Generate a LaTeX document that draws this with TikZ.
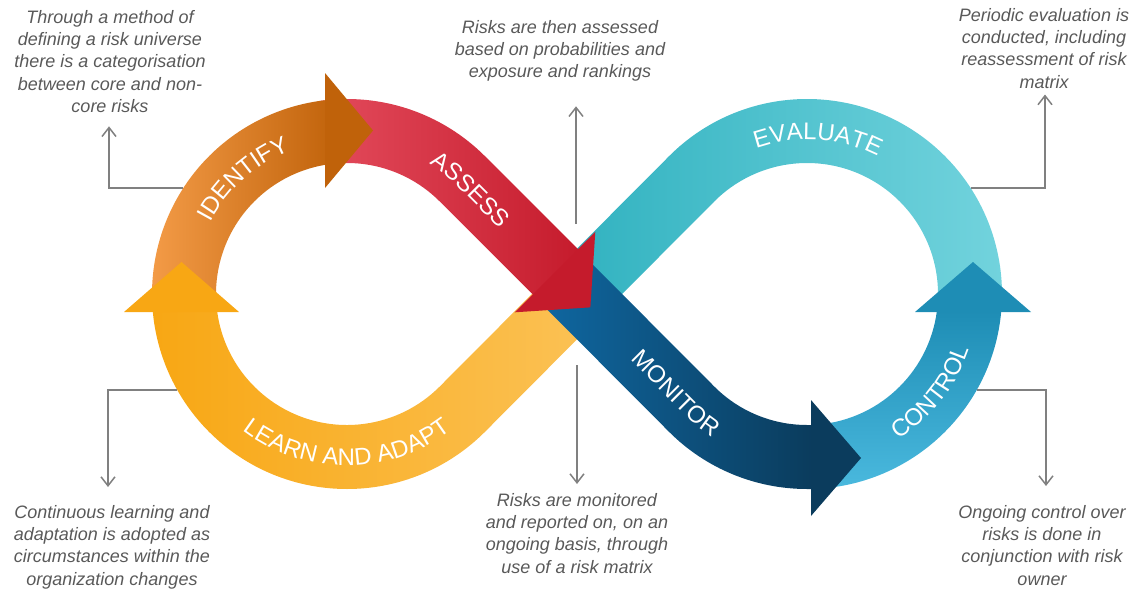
\documentclass[tikz,border=0pt]{standalone}
\usepackage{fontspec}
\setmainfont{Liberation Sans}
\usetikzlibrary{calc,decorations.text,arrows.meta}

\definecolor{orL}{HTML}{F49C48}
\definecolor{orR}{HTML}{C0620A}
\definecolor{redL}{HTML}{E34B5C}
\definecolor{redR}{HTML}{C51B2C}
\definecolor{cyL}{HTML}{2FB1BF}
\definecolor{cyR}{HTML}{72D3DD}
\definecolor{ctT}{HTML}{1E8DB5}
\definecolor{ctB}{HTML}{4AB9DE}
\definecolor{moL}{HTML}{0F68A2}
\definecolor{moR}{HTML}{0B3C5D}
\definecolor{yeL}{HTML}{F8A714}
\definecolor{yeR}{HTML}{FBC256}
\definecolor{descgray}{HTML}{595959}
\definecolor{conngray}{HTML}{808080}

\newcommand\bandfont{\fontsize{24}{24}\selectfont\color{white}}

\tikzset{
  desc/.style={align=center, font=\fontsize{18}{22.3}\selectfont\itshape, text=descgray, inner sep=0pt},
  conn/.style={draw=conngray, line width=1.5pt, -{Straight Barb[length=9pt,width=14pt]}},
  bandlabel/.style={decorate, decoration={text along path, text align=center, text={|\bandfont|#1}}}
}

\begin{document}
\begin{tikzpicture}[x=1pt,y=-1pt]
\useasboundingbox (0,0) rectangle (1138,589);
\coordinate (CL) at (347,294);
\coordinate (CR) at (807,294);
\coordinate (X) at (577,294);
\coordinate (H) at (555,272);

% ---------- band bodies ----------
% evaluate (cyan)
\shade[left color=cyL, right color=cyR]
  ($(X)+(-22.63,-22.63)$) -- ($(CR)+(225:195)$) arc[start angle=225, end angle=361.18, radius=195]
  -- ($(CR)+(361.75:131)$) arc[start angle=361.75, end angle=225, radius=131]
  -- ($(X)+(22.63,22.63)$) -- cycle;
% learn and adapt (yellow)
\shade[left color=yeL, right color=yeR]
  ($(X)+(22.63,22.63)$) -- ($(CL)+(45:195)$) arc[start angle=45, end angle=175.0, radius=195]
  -- ($(CL)+(172.54:131)$) arc[start angle=172.54, end angle=45, radius=131]
  -- ($(X)+(-22.63,-22.63)$) -- cycle;
% monitor (dark blue)
\shade[left color=moL, right color=moR]
  (534.37,296.63) -- ($(CR)+(135:195)$) arc[start angle=135, end angle=90, radius=195]
  -- (812,489) -- (812,425) -- ($(CR)+(90:131)$) arc[start angle=90, end angle=135, radius=131]
  -- (579.63,251.37) -- cycle;
% assess (red)
\shade[left color=redL, right color=redR]
  ($(CL)+(262:195)$) arc[start angle=262, end angle=315, radius=195]
  -- ++(96.55,96.55) -- ($(CL)+(315:131)+(96.55,96.55)$)
  -- ($(CL)+(315:131)$) arc[start angle=315, end angle=262, radius=131] -- cycle;
% identify (orange)
\shade[left color=orL, right color=orR]
  ($(CL)+(175.59:195)$) arc[start angle=175.59, end angle=266, radius=195]
  -- ($(CL)+(266:131)$) arc[start angle=266, end angle=173.43, radius=131] -- cycle;
% control (blue)
\shade[top color=ctT, bottom color=ctB]
  ($(CR)+(88.24:195)$) arc[start angle=88.24, end angle=5.0, radius=195]
  -- ($(CR)+(7.46:131)$) arc[start angle=7.46, end angle=87.37, radius=131] -- cycle;

% ---------- arrow heads ----------
\fill[redR] ($(H)+(40.3,-40.3)$) -- ($(H)+(35.36,35.36)$) -- ($(H)+(-40.3,40.3)$) -- cycle;
\fill[orR] (325,73) -- (373,130.5) -- (325,188) -- cycle;
\fill[yeL] (124,312) -- (181.5,262) -- (239,312) -- cycle;
\fill[moR] (811,400) -- (861,458) -- (811,516) -- cycle;
\fill[ctT] (915,312) -- (973,262) -- (1031,312) -- cycle;

% ---------- band labels ----------
\path[bandlabel=IDENTIFY] ($(CL)+(200:154.4)$) arc[start angle=200, end angle=256, radius=154.4];
\path[bandlabel=ASSESS] ($(CL)+(296.5:154.4)$) arc[start angle=296.5, end angle=315, radius=154.4] -- ++(55.15,55.15);
\path[bandlabel=EVALUATE] ($(CR)+(240:154.4)$) arc[start angle=240, end angle=308, radius=154.4];
\path[bandlabel=CONTROL] ($(CR)+(70:171.6)$) arc[start angle=70, end angle=6.8, radius=171.6];
\path[bandlabel=MONITOR] ($(CR)+(135:171.6)+(-77.8,-77.8)$) -- ($(CR)+(135:171.6)$) arc[start angle=135, end angle=112.9, radius=171.6];
\path[bandlabel={LEARN AND ADAPT}] ($(CL)+(140:171.6)$) arc[start angle=140, end angle=40, radius=171.6];

% ---------- descriptions ----------
\node[desc, anchor=north] (t1) at (110,10) {Through a method of\\defining a risk universe\\there is a categorisation\\between core and non-\\core risks};
\node[desc, anchor=north] (t2) at (560,20) {Risks are then assessed\\based on probabilities and\\exposure and rankings};
\node[desc, anchor=north] (t3) at (1044,8) {Periodic evaluation is\\conducted, including\\reassessment of risk\\matrix};
\node[desc, anchor=north] (t4) at (112,505) {Continuous learning and\\adaptation is adopted as\\circumstances within the\\organization changes};
\node[desc, anchor=north] (t5) at (577,493) {Risks are monitored\\and reported on, on an\\ongoing basis, through\\use of a risk matrix};
\node[desc, anchor=north] (t6) at (1042,505) {Ongoing control over\\risks is done in\\conjunction with risk\\owner};

% ---------- connectors ----------
\coordinate (b1) at (183.3,188);
\coordinate (b2) at (576,224);
\coordinate (b3) at (971,188);
\coordinate (b4) at (177.3,390);
\coordinate (b5) at (577,365);
\coordinate (b6) at (977,390);
\draw[conn, shorten >=13.5pt] (b1) -| ([xshift=-1pt]t1.south);
\draw[conn, shorten >=24.5pt] (b2) -- ([xshift=16pt]t2.south);
\draw[conn, shorten >=6pt] (b3) -| ([xshift=1pt]t3.south);
\draw[conn, shorten >=18pt] (b4) -| ([xshift=-4pt]t4.north);
\draw[conn, shorten >=9pt] (b5) -- (t5.north);
\draw[conn, shorten >=19pt] (b6) -| ([xshift=4pt]t6.north);
\end{tikzpicture}
\end{document}
